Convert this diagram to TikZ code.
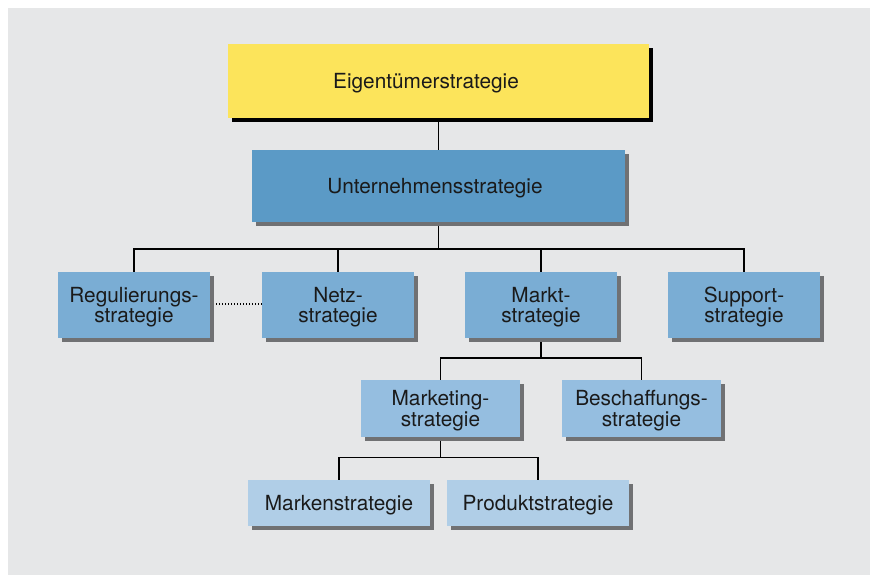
\documentclass[tikz,border=0pt]{standalone}
\usepackage{fontspec}
\setmainfont{TeX Gyre Heros}
\usetikzlibrary{shadows}
\definecolor{bggray}{HTML}{E6E7E8}
\definecolor{yel}{HTML}{FCE45B}
\definecolor{blueA}{HTML}{5B9AC6}
\definecolor{blueB}{HTML}{7AADD4}
\definecolor{blueC}{HTML}{95BEE0}
\definecolor{blueD}{HTML}{B0CEE7}
\definecolor{shgray}{HTML}{707173}
\definecolor{txt}{HTML}{1A1A1A}
\pgfdeclarelayer{background}
\pgfsetlayers{background,main}
\tikzset{
  box/.style={rectangle, inner sep=0pt, outer sep=0pt, align=center, text=txt,
    font=\fontsize{20.8}{20.3}\selectfont, text depth=0pt,
    drop shadow={shadow xshift=4pt, shadow yshift=-4pt, fill=shgray, opacity=1}},
  blackshadow/.style={drop shadow={shadow xshift=4pt, shadow yshift=-4pt, fill=black, opacity=1}},
  conn/.style={draw=black, line width=1.2pt},
  dots/.style={draw=black, line width=1.2pt, dash pattern=on 1.4pt off 1.6pt}
}
\begin{document}
\begin{tikzpicture}[x=1pt,y=-1pt]
\useasboundingbox (0,0) rectangle (870,575);
\node[box, blackshadow, fill=yel, minimum width=421pt, minimum height=74pt] (eig) at (438.5,81) {Eigentümerstrategie\hspace*{25pt}};
\node[box, fill=blueA, minimum width=373pt, minimum height=72pt] (unt) at (438.5,186) {Unternehmensstrategie\hspace*{7pt}};
\node[box, fill=blueB, minimum width=152pt, minimum height=66pt] (reg) at (134,305) {Regulierungs-\\strategie};
\node[box, fill=blueB, minimum width=152pt, minimum height=66pt] (netz) at (338,305) {Netz-\\strategie};
\node[box, fill=blueB, minimum width=152pt, minimum height=66pt] (markt) at (541,305) {Markt-\\strategie};
\node[box, fill=blueB, minimum width=152pt, minimum height=66pt] (sup) at (744,305) {Support-\\strategie};
\node[box, fill=blueC, minimum width=159pt, minimum height=57pt] (mkt) at (440.5,408.5) {Marketing-\\strategie};
\node[box, fill=blueC, minimum width=159pt, minimum height=57pt] (bes) at (641.5,408.5) {Beschaffungs-\\strategie};
\node[box, fill=blueD, minimum width=182pt, minimum height=46pt] (mar) at (339,503) {Markenstrategie};
\node[box, fill=blueD, minimum width=182pt, minimum height=46pt] (pro) at (538,503) {Produktstrategie};
\coordinate (b1) at (438.5,249);
\coordinate (b2) at (541,358);
\coordinate (b3) at (440.5,457.7);
\begin{pgfonlayer}{background}
\fill[white] (0,0) rectangle (870,575);
\fill[bggray] (8,8) rectangle (870,575);
\draw[conn] (eig.south) -- (unt.north);
\draw[conn] (unt.south) -- (b1);
\draw[conn] (reg.north) |- (b1) -| (sup.north);
\draw[conn] (netz.north) -- (netz.north |- b1);
\draw[conn] (markt.north) -- (markt.north |- b1);
\draw[conn] (markt.south) -- (b2);
\draw[conn] (mkt.north) |- (b2) -| (bes.north);
\draw[conn] (mkt.south) -- (b3);
\draw[conn] (mar.north) |- (b3) -| (pro.north);
\draw[dots] (reg.east |- 0,304) -- (netz.west |- 0,304);
\end{pgfonlayer}
\end{tikzpicture}
\end{document}
